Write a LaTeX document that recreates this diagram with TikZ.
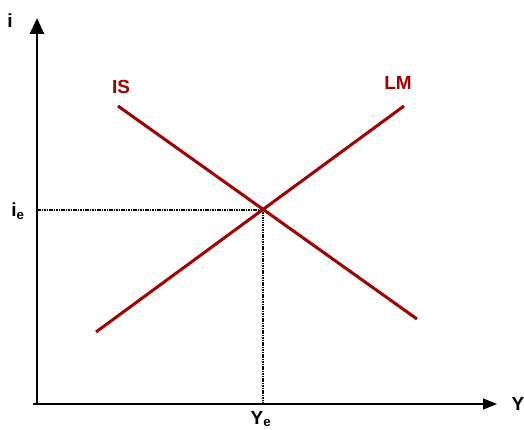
\documentclass[tikz,border=0pt]{standalone}
\usepackage{fontspec}
\setmainfont{Liberation Sans}
\usetikzlibrary{arrows.meta}
\definecolor{curve}{HTML}{A00000}
\begin{document}
\begin{tikzpicture}[x=1pt,y=-1pt,
  axis/.style={draw=black,line width=#1},
  curveline/.style={draw=curve,line width=3pt},
  guide/.style={draw=black,line width=1.3pt,dash pattern=on 1.5pt off 0.9pt},
  lbl/.style={font=\fontsize{19}{21}\selectfont\bfseries,inner sep=0pt},
  clbl/.style={lbl,text=curve}]
\useasboundingbox (0,0) rectangle (524,430);
\coordinate (O) at (37,404);
\coordinate (ytop) at (37,18);
\coordinate (xend) at (497,404);
\coordinate (xstart) at (33,404);
\coordinate (is1) at (118,106);
\coordinate (is2) at (417,319);
\coordinate (lm1) at (96,332);
\coordinate (lm2) at (404,106);
\coordinate (E) at (263,210);
\coordinate (Eaxy) at (37,210);
\coordinate (Eaxx) at (263,404);
\draw[guide] (Eaxy) -- (E);
\draw[guide] (E) -- (Eaxx);
\draw[axis=2.8pt,-{Triangle[length=16pt,width=14pt]}] (O) -- (ytop);
\draw[axis=1.5pt,-{Triangle[length=14pt,width=11pt]}] (xstart) -- (xend);
\draw[curveline] (is1) -- (is2);
\draw[curveline] (lm1) -- (lm2);
\node[lbl] (ilbl) at (10,21) {i};
\node[lbl] (ielbl) at (18,211) {i\textsubscript{e}};
\node[lbl] (Yelbl) at (261,419) {Y\textsubscript{e}};
\node[lbl] (Ylbl) at (518,404) {Y};
\node[clbl] (ISlbl) at (121,87) {IS};
\node[clbl] (LMlbl) at (398,83) {LM};
\end{tikzpicture}
\end{document}
